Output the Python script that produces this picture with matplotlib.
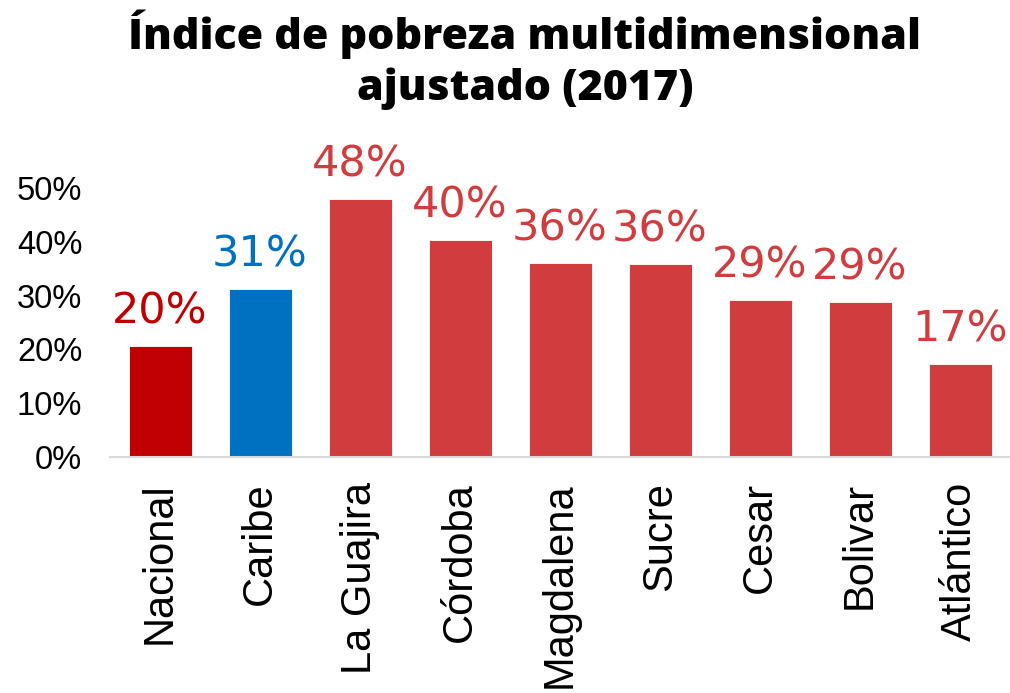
import matplotlib
matplotlib.use("Agg")
import matplotlib.pyplot as plt

categories = ["Nacional", "Caribe", "La Guajira", "Córdoba", "Magdalena",
              "Sucre", "Cesar", "Bolivar", "Atlántico"]
values = [20.6, 31.2, 47.9, 40.3, 36.1, 35.9, 29.2, 28.8, 17.3]
value_labels = ["20%", "31%", "48%", "40%", "36%", "36%", "29%", "29%", "17%"]
bar_colors = ["#C00000", "#0070C0"] + ["#D13C3F"] * 7
yticks = [0, 10, 20, 30, 40, 50]
ytick_labels = ["0%", "10%", "20%", "30%", "40%", "50%"]
title_lines = ["Índice de pobreza multidimensional", "ajustado (2017)"]

fig = plt.figure(figsize=(10.10, 6.93), dpi=100)
ax = fig.add_axes([110/1010, 1 - 457/693, 900/1010, (457 - 134)/693])

x = list(range(len(categories)))
ax.bar(x, values, width=0.63, color=bar_colors, edgecolor="white", linewidth=0.6)
ax.set_xlim(-0.5, len(categories) - 0.5)
ax.set_ylim(0, 60)

for xi, v, lab, c in zip(x, values, value_labels, bar_colors):
    ax.annotate(lab, (xi, v), xytext=(0, 16), textcoords="offset points",
                ha="center", va="baseline", fontsize=31, color=c,
                family=["DejaVu Sans"], clip_on=False)

ax.set_yticks(yticks)
ax.set_yticklabels(ytick_labels, family=["Liberation Sans", "DejaVu Sans"], fontsize=23.5)
ax.set_xticks(x)
ax.set_xticklabels(categories, rotation=90, family=["Liberation Sans", "DejaVu Sans"],
                   fontsize=30, va="top", ha="center")
ax.tick_params(axis="y", length=0, pad=20)
ax.tick_params(axis="x", length=0, pad=18)

for s in ["top", "right", "left"]:
    ax.spines[s].set_visible(False)
ax.spines["bottom"].set_color("#D9D9D9")
ax.spines["bottom"].set_linewidth(1.5)

fig.text(525/1010, 1 - 49/693, title_lines[0], ha="center", va="baseline",
         fontsize=31, fontweight="extra bold", family=["Open Sans", "DejaVu Sans"])
fig.text(525/1010, 1 - 100/693, title_lines[1], ha="center", va="baseline",
         fontsize=31, fontweight="extra bold", family=["Open Sans", "DejaVu Sans"])

fig.savefig("out.png", dpi=100)
